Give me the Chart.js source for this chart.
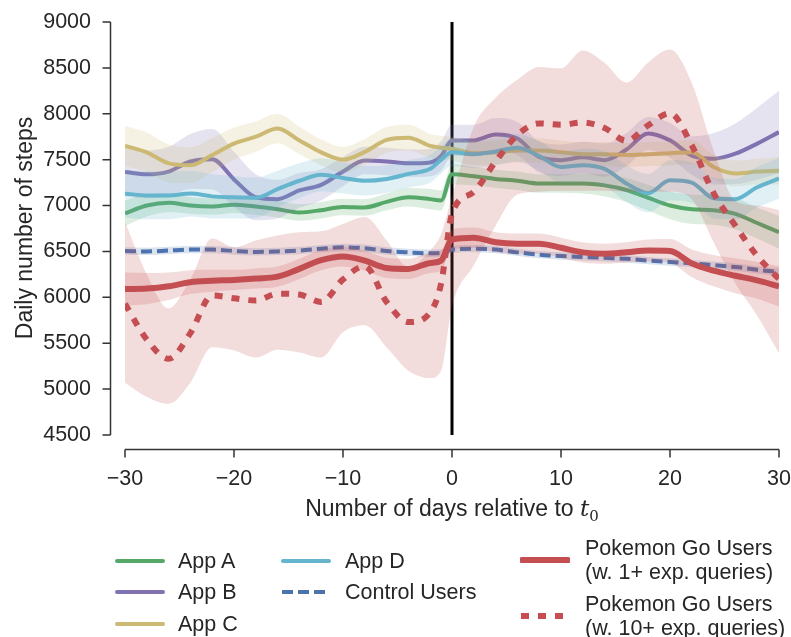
<!DOCTYPE html>
<html>
<head>
<meta charset="utf-8">
<script src="https://cdn.jsdelivr.net/npm/chart.js@4/dist/chart.umd.min.js"></script>
<style>
  body { margin: 0; background: #fff; }
  #wrap { position: relative; width: 791px; height: 637px; font-family: "Liberation Sans", Arial, sans-serif; color: #262626; }
  canvas { position: absolute; left: 0; top: 0; }
  .ylab { position: absolute; left: -126px; top: 214px; width: 300px; height: 28px; line-height: 28px; text-align: center; font-size: 23px; transform: rotate(-90deg); }
  .xlab { position: absolute; left: 152px; top: 494px; width: 600px; height: 28px; line-height: 28px; text-align: center; font-size: 23px; }
  .xlab .m { font-family: "DejaVu Serif", serif; }
  .xlab sub { font-style: normal; font-size: 15px; vertical-align: -5px; }
  .leg { position: absolute; font-size: 21.5px; line-height: 24px; white-space: nowrap; }
  .swatch { position: absolute; }
</style>
</head>
<body>
<div id="wrap">
  <canvas id="chart" width="791" height="637"></canvas>
  <div class="ylab">Daily number of steps</div>
  <div class="xlab">Number of days relative to <span class="m"><i>t</i><sub>0</sub></span></div>
  <div id="legend"></div>
</div>
<script>
const days = [-30, -28, -26, -24, -22, -20, -18, -16, -14, -12, -10, -8, -6, -4, -2, -1,
  0, 2, 4, 6, 8, 10, 12, 14, 16, 18, 20, 22, 24, 26, 28, 30];

const appA = [6915, 7000, 7030, 7000, 6990, 7010, 6990, 6960, 6925, 6950, 6985, 6980, 7040, 7090, 7070, 7055,
  7340, 7320, 7290, 7270, 7240, 7240, 7240, 7220, 7170, 7085, 7000, 6960, 6950, 6910, 6810, 6710];
const appB = [7365, 7340, 7370, 7480, 7505, 7285, 7090, 7070, 7165, 7225, 7370, 7490, 7480, 7460, 7470, 7540,
  7710, 7710, 7775, 7730, 7530, 7495, 7525, 7495, 7610, 7785, 7710, 7545, 7510, 7565, 7675, 7800];
const appC = [7650, 7580, 7460, 7440, 7550, 7675, 7750, 7840, 7710, 7580, 7500, 7585, 7715, 7740, 7650, 7630,
  7620, 7570, 7580, 7600, 7600, 7580, 7560, 7560, 7550, 7560, 7570, 7580, 7420, 7350, 7370, 7380];
const appD = [7130, 7110, 7110, 7130, 7100, 7090, 7085, 7180, 7270, 7335, 7300, 7270, 7290, 7345, 7400, 7500,
  7580, 7560, 7590, 7630, 7540, 7420, 7440, 7400, 7240, 7135, 7275, 7250, 7080, 7070, 7200, 7295];
const control = [6505, 6500, 6510, 6520, 6520, 6505, 6495, 6500, 6510, 6530, 6545, 6535, 6505, 6490, 6480, 6485,
  6520, 6530, 6520, 6490, 6465, 6450, 6440, 6430, 6420, 6400, 6385, 6370, 6350, 6330, 6300, 6275];
const poke1 = [6090, 6095, 6120, 6165, 6180, 6190, 6205, 6225, 6310, 6405, 6445, 6400, 6320, 6310, 6375, 6400,
  6630, 6650, 6600, 6585, 6585, 6540, 6490, 6475, 6490, 6510, 6505, 6370, 6290, 6235, 6185, 6120];
const poke10 = [5930, 5540, 5330, 5610, 6020, 5990, 5965, 6040, 6030, 5950, 6195, 6340, 5950, 5730, 5835, 6150,
  6910, 7150, 7480, 7770, 7895, 7880, 7905, 7845, 7705, 7875, 8005, 7655, 7135, 6780, 6450, 6200];

// confidence bands: half widths for most series, explicit edges for the 10+ group
const appASpread = [140, 120, 100, 90, 90, 90, 90, 90, 90, 90, 90, 90, 90, 100, 110, 110,
  110, 100, 100, 100, 100, 100, 110, 120, 130, 140, 150, 160, 160, 170, 170, 180];
const appBSpread = [260, 260, 270, 300, 330, 300, 250, 210, 190, 170, 160, 150, 150, 150, 150, 160,
  170, 170, 180, 180, 170, 170, 170, 180, 180, 180, 190, 210, 280, 330, 390, 450];
const appCSpread = [220, 215, 205, 195, 185, 175, 165, 160, 150, 140, 140, 140, 140, 140, 130, 130,
  130, 130, 130, 130, 130, 130, 130, 130, 130, 130, 130, 130, 130, 140, 140, 150];
const appDSpread = [260, 260, 260, 250, 240, 230, 220, 200, 190, 180, 170, 160, 150, 150, 150, 150,
  150, 150, 150, 150, 160, 170, 180, 190, 200, 210, 220, 220, 220, 220, 220, 220];
const controlSpread = [40, 40, 40, 40, 40, 40, 40, 40, 40, 40, 40, 40, 40, 40, 40, 40,
  40, 40, 40, 40, 40, 40, 40, 40, 40, 40, 40, 40, 40, 40, 40, 40];
const poke1Spread = [180, 170, 150, 130, 120, 110, 110, 110, 110, 110, 110, 110, 110, 110, 110, 110,
  110, 110, 110, 110, 110, 110, 110, 110, 110, 120, 130, 150, 170, 190, 200, 220];
const poke10Low = [5070, 4915, 4840, 5070, 5455, 5420, 5345, 5430, 5400, 5345, 5620, 5695, 5455, 5200, 5120, 5200,
  5900, 6350, 6780, 7120, 7150, 7160, 7160, 7160, 7150, 7150, 7150, 7070, 6600, 6150, 5800, 5390];
const poke10High = [6820, 6250, 5880, 6195, 6640, 6545, 6620, 6675, 6710, 6720, 6800, 6875, 6620, 6330, 6510, 6690,
  7100, 7860, 8175, 8370, 8510, 8495, 8690, 8555, 8340, 8560, 8700, 8335, 7600, 7050, 7000, 6950];

const yTicks = [4500, 5000, 5500, 6000, 6500, 7000, 7500, 8000, 8500, 9000];
const xTicks = [-30, -20, -10, 0, 10, 20, 30];

const series = [
  { label: ['App A'], vals: appA, spread: appASpread, color: '#55a868', width: 4, dash: [] },
  { label: ['App B'], vals: appB, spread: appBSpread, color: '#8172b2', width: 4, dash: [] },
  { label: ['App C'], vals: appC, spread: appCSpread, color: '#ccb974', width: 4, dash: [] },
  { label: ['App D'], vals: appD, spread: appDSpread, color: '#64b5cd', width: 4, dash: [] },
  { label: ['Control Users'], vals: control, spread: controlSpread, color: '#4c72b0', width: 4, dash: [11, 5] },
  { label: ['Pokemon Go Users', '(w. 1+ exp. queries)'], vals: poke1, spread: poke1Spread, color: '#c44e52', width: 6, dash: [] },
  { label: ['Pokemon Go Users', '(w. 10+ exp. queries)'], vals: poke10, low: poke10Low, high: poke10High, color: '#c44e52', width: 6, dash: [8, 9] },
];

function rgba(hex, a) {
  const n = parseInt(hex.slice(1), 16);
  return `rgba(${n >> 16}, ${(n >> 8) & 255}, ${n & 255}, ${a})`;
}
const pts = (vals) => days.map((d, i) => ({ x: d, y: vals[i] }));

const datasets = [];
let order = 1000;
series.forEach((s) => {
  const hi = s.high || s.vals.map((v, i) => v + s.spread[i]);
  const lo = s.low || s.vals.map((v, i) => v - s.spread[i]);
  const common = { pointRadius: 0, cubicInterpolationMode: 'monotone' };
  datasets.push({ ...common, data: pts(hi), borderWidth: 0, borderColor: 'transparent',
    fill: '+1', backgroundColor: rgba(s.color, 0.2), order: order-- });
  datasets.push({ ...common, data: pts(lo), borderWidth: 0, borderColor: 'transparent',
    fill: false, order: order-- });
  datasets.push({ ...common, data: pts(s.vals), borderColor: s.color, borderWidth: s.width,
    borderDash: s.dash, borderCapStyle: 'butt', fill: false, order: order-- });
});

const fmt = (v) => (v < 0 ? '\u2212' + Math.abs(v) : String(v));

// seaborn style offset spines plus the t0 marker
const axesPlugin = {
  id: 'axes',
  beforeDatasetsDraw(chart) {
    const { ctx, scales: { x, y } } = chart;
    ctx.save();
    ctx.strokeStyle = '#000';
    ctx.lineWidth = 3;
    ctx.beginPath();
    ctx.moveTo(x.getPixelForValue(0), y.getPixelForValue(9000));
    ctx.lineTo(x.getPixelForValue(0), y.getPixelForValue(4500));
    ctx.stroke();
    ctx.restore();
  },
  afterDraw(chart) {
    const { ctx, chartArea, scales: { x, y } } = chart;
    const sx = chartArea.left - 14.5;
    const sy = chartArea.bottom + 14.5;
    ctx.save();
    ctx.strokeStyle = '#333';
    ctx.lineWidth = 1.5;
    ctx.beginPath();
    ctx.moveTo(sx, y.getPixelForValue(9000));
    ctx.lineTo(sx, y.getPixelForValue(4500));
    yTicks.forEach((t) => {
      const py = y.getPixelForValue(t);
      ctx.moveTo(sx, py);
      ctx.lineTo(sx - 8, py);
    });
    ctx.moveTo(x.getPixelForValue(-30), sy);
    ctx.lineTo(x.getPixelForValue(30), sy);
    xTicks.forEach((t) => {
      const px = x.getPixelForValue(t);
      ctx.moveTo(px, sy);
      ctx.lineTo(px, sy + 8);
    });
    ctx.stroke();
    ctx.restore();
  },
};

new Chart(document.getElementById('chart'), {
  type: 'line',
  data: { datasets },
  options: {
    responsive: false,
    animation: false,
    devicePixelRatio: 1,
    layout: { padding: { left: 0, right: 12, top: 22, bottom: 0 } },
    plugins: { legend: { display: false }, tooltip: { enabled: false } },
    scales: {
      x: {
        type: 'linear', min: -30, max: 30,
        afterFit: (s) => { s.height = 202; s.paddingLeft = 0; s.paddingRight = 0; },
        afterBuildTicks: (s) => { s.ticks = xTicks.map((v) => ({ value: v })); },
        grid: { display: false, drawTicks: false },
        border: { display: false },
        ticks: { padding: 31, color: '#262626', font: { family: 'Liberation Sans', size: 21.5 }, callback: fmt },
      },
      y: {
        min: 4500, max: 9000,
        afterFit: (s) => { s.width = 125; s.paddingTop = 0; s.paddingBottom = 0; },
        afterBuildTicks: (s) => { s.ticks = yTicks.map((v) => ({ value: v })); },
        grid: { display: false, drawTicks: false },
        border: { display: false },
        ticks: { padding: 34, color: '#262626', font: { family: 'Liberation Sans', size: 21.5 }, callback: fmt },
      },
    },
  },
  plugins: [axesPlugin],
});

// legend laid out in three columns like the original
const legendPos = [
  { sx: 115, tx: 178, y: 561 },
  { sx: 115, tx: 178, y: 592 },
  { sx: 115, tx: 178, y: 624 },
  { sx: 281, tx: 345, y: 561 },
  { sx: 281, tx: 345, y: 592 },
  { sx: 520, tx: 585, y: 560 },
  { sx: 520, tx: 585, y: 616 },
];
const legend = document.getElementById('legend');
series.forEach((s, i) => {
  const p = legendPos[i];
  const svg = document.createElementNS('http://www.w3.org/2000/svg', 'svg');
  svg.setAttribute('class', 'swatch');
  svg.setAttribute('width', 50);
  svg.setAttribute('height', 12);
  svg.style.left = p.sx + 'px';
  svg.style.top = (p.y - 6) + 'px';
  const ln = document.createElementNS('http://www.w3.org/2000/svg', 'line');
  ln.setAttribute('x1', s.dash.length ? 1 : 2);
  ln.setAttribute('x2', 48);
  ln.setAttribute('y1', 6);
  ln.setAttribute('y2', 6);
  ln.setAttribute('stroke', s.color);
  ln.setAttribute('stroke-width', s.width);
  ln.setAttribute('stroke-linecap', s.dash.length ? 'butt' : 'round');
  if (s.dash.length) ln.setAttribute('stroke-dasharray', s.dash.join(' '));
  svg.appendChild(ln);
  legend.appendChild(svg);
  const txt = document.createElement('div');
  txt.className = 'leg';
  txt.style.left = p.tx + 'px';
  txt.style.top = (p.y - 12 * s.label.length) + 'px';
  txt.innerHTML = s.label.join('<br>');
  legend.appendChild(txt);
});
</script>
</body>
</html>
